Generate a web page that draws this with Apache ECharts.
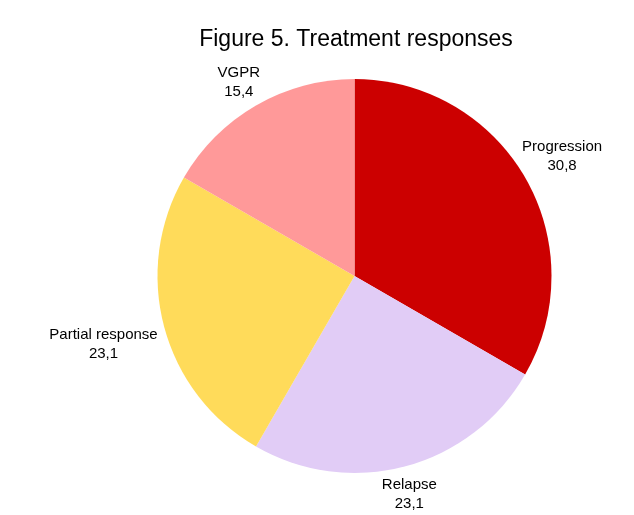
<!DOCTYPE html>
<html>
<head>
<meta charset="utf-8">
<script src="https://cdn.jsdelivr.net/npm/echarts@6/dist/echarts.min.js"></script>
<style>
  html, body { margin: 0; padding: 0; background: #ffffff; }
  #chart { width: 634px; height: 515px; }
</style>
</head>
<body>
<div id="chart"></div>
<script>
// Treatment response shares (%), clockwise from 12 o'clock
const categories = ['Progression', 'Relapse', 'Partial response', 'VGPR'];
const values = [30.8, 23.1, 23.1, 15.4];
const colors = ['#CC0000', '#E1CCF6', '#FFDB5A', '#FF9999'];

const CX = 354.5, CY = 276, R = 197, GAP = 3;
// small constant nudge applied to every outside label
const LABEL_DX = -3, LABEL_DY = 2;

const total = values.reduce((a, b) => a + b, 0);
// mid angle of each slice, measured clockwise from the top
const midAngles = [];
let acc = 0;
values.forEach(v => {
  midAngles.push((acc + v / 2) / total * 2 * Math.PI);
  acc += v;
});

const fmt = v => v.toFixed(1).replace('.', ',');

const chart = echarts.init(document.getElementById('chart'));
chart.setOption({
  backgroundColor: '#ffffff',
  animation: false,
  title: {
    text: 'Figure 5. Treatment responses',
    left: 351,
    textAlign: 'center',
    top: 23,
    textStyle: { fontFamily: 'Liberation Sans', fontSize: 23, fontWeight: 'normal', color: '#000000' }
  },
  series: [{
    type: 'pie',
    center: [CX, CY],
    radius: R,
    startAngle: 90,
    clockwise: true,
    avoidLabelOverlap: false,
    data: categories.map((name, i) => ({ name, value: values[i], itemStyle: { color: colors[i] } })),
    itemStyle: { borderColor: '#ffffff', borderWidth: 0 },
    label: {
      show: true,
      position: 'outside',
      formatter: p => '{t|' + p.name + '}\n{t|' + fmt(p.value) + '}',
      rich: {
        t: { align: 'center', fontFamily: 'Liberation Sans', fontSize: 15, lineHeight: 19, color: '#000000' }
      }
    },
    labelLine: { show: false },
    labelLayout: params => {
      const a = midAngles[params.dataIndex];
      const dx = Math.sin(a), dy = -Math.cos(a);
      const w = params.labelRect.width, h = params.labelRect.height;
      const rr = R + GAP + Math.abs(dx) * w / 2 + Math.abs(dy) * h / 2;
      return {
        x: CX + dx * rr + LABEL_DX,
        y: CY + dy * rr + LABEL_DY,
        align: 'center',
        verticalAlign: 'middle'
      };
    }
  }]
});
</script>
</body>
</html>
